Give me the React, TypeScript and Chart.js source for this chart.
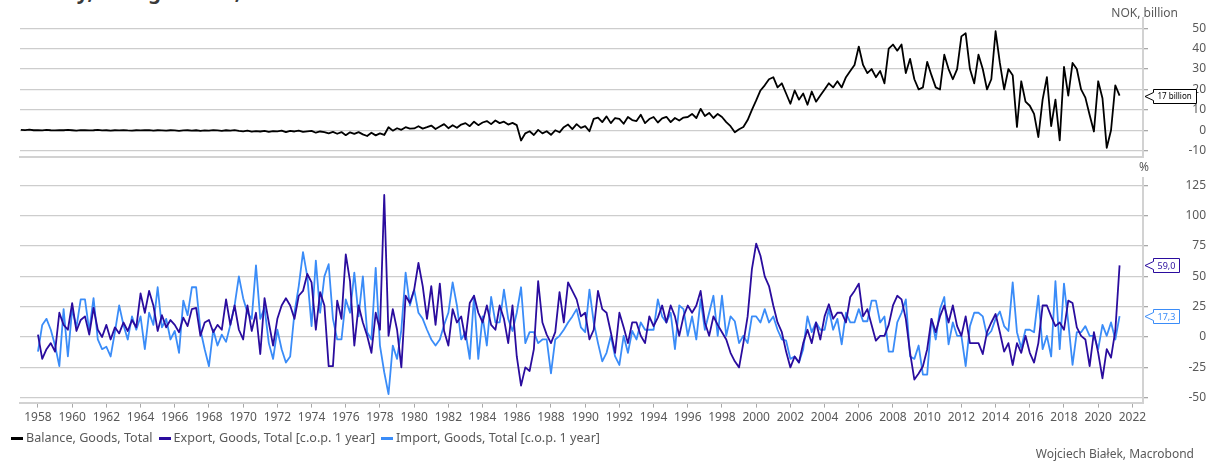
import React, { useEffect, useRef } from "react";
import { Chart, registerables } from "chart.js";

Chart.register(...registerables);

// ---------------- data ----------------
const balanceStartYear = 1957;
const tradeStartYear = 1958;
const stepYears = 0.25; // quarterly readings

// Balance, Goods, Total (NOK billion), quarterly from 1957 Q1
const balance = [
  0.2, 0.1, 0.3, 0.0, // 1957
  0.1, -0.1, 0.2, 0.0, // 1958
  -0.1, 0.1, 0.0, 0.2, // 1959
  0.0, -0.2, 0.1, 0.0, // 1960
  -0.1, 0.0, 0.2, -0.1, // 1961
  0.0, -0.2, 0.0, -0.1, // 1962
  0.1, -0.1, -0.2, 0.0, // 1963
  -0.1, 0.0, 0.1, -0.2, // 1964
  0.0, -0.1, -0.2, 0.0, // 1965
  -0.1, -0.3, -0.1, 0.0, // 1966
  -0.2, 0.0, -0.3, -0.1, // 1967
  -0.2, 0.1, -0.1, -0.3, // 1968
  0.0, -0.2, 0.1, -0.3, // 1969
  -0.5, -0.2, -0.7, -0.4, // 1970
  -0.6, -0.3, -0.8, -0.4, // 1971
  -0.5, -0.2, -0.9, -0.3, // 1972
  -0.6, -0.2, -0.8, -0.5, // 1973
  -0.3, -1.2, -0.6, -0.9, // 1974
  -1.5, -0.8, -1.7, -0.9, // 1975
  -2.4, -1.0, -1.8, -0.9, // 1976
  -2.0, -2.8, -1.2, -2.5, // 1977
  -1.5, -2.3, 1.5, -0.2, // 1978
  1.0, 0.2, 1.5, 0.8, // 1979
  0.9, 2.0, 0.8, 1.5, // 1980
  2.3, 0.6, 1.8, 3.0, // 1981
  1.0, 2.5, 1.2, 2.8, // 1982
  3.5, 2.0, 4.2, 2.5, // 1983
  3.8, 4.5, 3.0, 4.8, // 1984
  3.5, 4.2, 2.8, 3.6, // 1985
  2.5, -5.0, -1.5, -0.5, // 1986
  -2.3, 0.2, -1.5, -0.5, // 1987
  -2.2, 0.0, -1.0, 1.5, // 1988
  2.8, 0.6, 3.0, 1.2, // 1989
  2.0, -0.5, 5.6, 6.2, // 1990
  4.0, 6.8, 3.5, 6.0, // 1991
  5.6, 3.2, 6.5, 5.0, // 1992
  4.5, 7.6, 3.5, 5.5, // 1993
  6.5, 3.8, 5.8, 6.6, // 1994
  4.0, 6.0, 4.8, 6.2, // 1995
  6.5, 8.0, 6.0, 10.5, // 1996
  7.0, 8.5, 6.0, 8.0, // 1997
  6.5, 4.0, 2.0, -1.0, // 1998
  0.5, 1.6, 5.0, 10.0, // 1999
  14.6, 19.5, 22.0, 25.0, // 2000
  26.0, 21.0, 23.0, 18.0, // 2001
  13.0, 19.5, 15.0, 18.0, // 2002
  12.5, 19.0, 14.0, 17.0, // 2003
  20.0, 23.0, 21.0, 24.0, // 2004
  21.0, 26.0, 29.0, 32.0, // 2005
  41.0, 32.0, 28.0, 30.0, // 2006
  26.0, 29.0, 23.0, 40.0, // 2007
  42.0, 39.0, 42.0, 28.0, // 2008
  35.0, 25.0, 20.0, 21.0, // 2009
  33.5, 27.0, 21.0, 20.0, // 2010
  37.0, 30.0, 25.0, 30.0, // 2011
  46.0, 47.5, 30.0, 23.0, // 2012
  37.0, 30.0, 20.0, 25.0, // 2013
  48.5, 33.0, 20.0, 30.0, // 2014
  27.0, 1.6, 24.0, 14.0, // 2015
  12.0, 8.0, -3.3, 15.0, // 2016
  26.0, 2.0, 15.0, -5.0, // 2017
  31.0, 17.0, 33.0, 30.0, // 2018
  20.0, 16.0, 7.5, -0.6, // 2019
  24.0, 15.7, -8.6, 0.0, // 2020
  22.0, 17.0, // 2021
];

// Export, Goods, Total [c.o.p. 1 year] (%), quarterly from 1958 Q1
const exportGrowth = [
  2, -18, -10, -5, // 1958
  -12, 20, 10, 6, // 1959
  28, 5, 14, 17, // 1960
  2, 24, 6, 0, // 1961
  10, -2, 8, 3, // 1962
  12, 5, 14, 8, // 1963
  36, 20, 38, 26, // 1964
  5, 18, 8, 14, // 1965
  10, 4, 16, 9, // 1966
  23, 24, 1, 12, // 1967
  14, 4, 10, 6, // 1968
  31, 10, 26, 6, // 1969
  -2, 26, 5, 20, // 1970
  -14, 32, 12, -7, // 1971
  15, 26, 32, 26, // 1972
  15, 34, 38, 52, // 1973
  45, 6, 37, 26, // 1974
  -24, -24, 30, 15, // 1975
  68, 46, -7, 26, // 1976
  12, 1, -13, 20, // 1977
  6, 117, 1, 23, // 1978
  6, -25, 34, 28, // 1979
  39, 61, 42, 15, // 1980
  42, 10, 44, 5, // 1981
  -7, 23, 12, 17, // 1982
  -2, 28, 34, 20, // 1983
  12, 26, 10, 6, // 1984
  26, 15, -5, 26, // 1985
  -16, -40, -25, -28, // 1986
  -10, 46, 12, 2, // 1987
  -5, 4, 37, 12, // 1988
  45, 38, 31, 17, // 1989
  20, -2, 6, 38, // 1990
  23, 20, 4, -13, // 1991
  20, 8, -5, 12, // 1992
  12, 1, -5, 17, // 1993
  9, 16, 26, 12, // 1994
  26, 17, 1, 17, // 1995
  26, 20, 26, 38, // 1996
  12, 1, 17, 10, // 1997
  4, -2, -13, -20, // 1998
  -25, -5, 17, 56, // 1999
  77, 67, 50, 42, // 2000
  26, 12, 4, -12, // 2001
  -25, -16, -21, -5, // 2002
  6, -5, 12, -2, // 2003
  17, 27, 15, 20, // 2004
  20, 12, 33, 38, // 2005
  44, 17, 23, 10, // 2006
  -3, 1, 1, 10, // 2007
  26, 34, 31, 15, // 2008
  -13, -35, -30, -24, // 2009
  -10, 15, 4, 17, // 2010
  26, 12, 26, 9, // 2011
  1, 17, -5, -5, // 2012
  -5, -14, 4, 12, // 2013
  19, 4, -12, -5, // 2014
  -23, -5, -13, 1, // 2015
  -13, -21, -5, 26, // 2016
  26, 17, 9, 12, // 2017
  6, 30, 28, 8, // 2018
  1, -2, -24, 4, // 2019
  -13, -34, -10, -17, // 2020
  5, 59.0, // 2021
];

// Import, Goods, Total [c.o.p. 1 year] (%), quarterly from 1958 Q1
const importGrowth = [
  -12, 10, 15, 6, // 1958
  -7, -24, 23, -16, // 1959
  23, 8, 31, 31, // 1960
  5, 32, -2, -10, // 1961
  -8, -16, 4, 26, // 1962
  10, -2, 17, 6, // 1963
  17, -10, 20, 10, // 1964
  41, 8, 15, -2, // 1965
  5, -13, 30, 18, // 1966
  41, 41, 6, -10, // 1967
  -24, 6, -7, 2, // 1968
  -4, 10, 26, 50, // 1969
  32, 20, 15, 59, // 1970
  15, 24, -5, -18, // 1971
  6, -10, -21, -16, // 1972
  20, 42, 70, 50, // 1973
  9, 63, 20, 50, // 1974
  60, 15, -2, -2, // 1975
  31, 20, 53, 17, // 1976
  50, 4, -2, 57, // 1977
  -7, -29, -47, -7, // 1978
  -18, 6, 53, 26, // 1979
  39, 20, 15, 6, // 1980
  -2, -7, -2, 10, // 1981
  20, 45, 26, -2, // 1982
  4, -18, 34, -18, // 1983
  17, -7, 33, 12, // 1984
  12, 39, 15, 5, // 1985
  20, 41, -5, 4, // 1986
  4, -5, -2, -2, // 1987
  -30, -2, 1, 6, // 1988
  12, 17, 23, 8, // 1989
  4, 39, 12, -5, // 1990
  -20, -13, 1, -16, // 1991
  -23, 1, -13, 5, // 1992
  -2, 12, 6, 6, // 1993
  6, 31, 17, 12, // 1994
  20, -10, 26, 23, // 1995
  1, 17, -2, 31, // 1996
  6, 20, 34, 1, // 1997
  34, 1, 17, 13, // 1998
  -5, 1, -5, 17, // 1999
  17, 12, 23, 12, // 2000
  17, 6, -2, -3, // 2001
  -18, -16, -21, -10, // 2002
  17, 4, 12, 6, // 2003
  6, 23, 6, 15, // 2004
  -6, 20, 12, 12, // 2005
  23, 13, 13, 30, // 2006
  30, 12, 17, -12, // 2007
  -12, 12, 20, 31, // 2008
  -16, -18, -7, -31, // 2009
  -31, 15, -2, 23, // 2010
  33, -6, 12, 1, // 2011
  1, -24, 9, 20, // 2012
  20, 17, 1, 5, // 2013
  15, 21, 9, 5, // 2014
  45, 4, -9, 6, // 2015
  6, 4, 34, -10, // 2016
  1, -16, 46, -10, // 2017
  44, 12, -23, 4, // 2018
  4, 9, 1, 1, // 2019
  -10, 10, 1, 12, // 2020
  -2, 17.3, // 2021
];

const yearTicks = [
  1958, 1960, 1962, 1964, 1966, 1968, 1970, 1972, 1974, 1976, 1978,
  1980, 1982, 1984, 1986, 1988, 1990, 1992, 1994, 1996, 1998, 2000,
  2002, 2004, 2006, 2008, 2010, 2012, 2014, 2016, 2018, 2020, 2022,
];
const balanceTicks = [-10, 0, 10, 20, 30, 40, 50];
const percentTicks = [-50, -25, 0, 25, 50, 75, 100, 125];

const seriesNames = [
  "Balance, Goods, Total",
  "Export, Goods, Total [c.o.p. 1 year]",
  "Import, Goods, Total [c.o.p. 1 year]",
];
const seriesColors = ["#000000", "#2a0c9e", "#3a8cf8"];

const titleText = "Norway, Foreign Trade, NOK";
const topUnit = "NOK, billion";
const bottomUnit = "%";
const sourceText = "Wojciech Białek, Macrobond";

// ---------------- helpers ----------------
const FONT = "'Noto Sans', sans-serif";
const TEXT_GRAY = "#595959";
const X_MIN = 1956.95;
const X_MAX = 2022.62;

const toPoints = (start: number, vals: number[]) =>
  vals.map((v, i) => ({ x: start + i * stepYears, y: v }));

const calloutPlugin = {
  id: "callouts",
  afterDraw(chart: any) {
    const { ctx, chartArea } = chart;
    const yScale = chart.scales.y;
    chart.data.datasets.forEach((ds: any) => {
      const c = ds.callout;
      if (!c) return;
      const last = ds.data[ds.data.length - 1];
      const y = Math.round(yScale.getPixelForValue(last.y)) + 0.5;
      ctx.save();
      ctx.font = `${c.size}px ${FONT}`;
      const text = c.format(last.y);
      const tw = ctx.measureText(text).width;
      const tip = chartArea.right + 2;
      const left = chartArea.right + 10.5;
      const right = Math.round(left + tw + 8) + 0.5;
      const h = 14;
      const top = y - h / 2;
      const bottom = y + h / 2;
      ctx.beginPath();
      ctx.moveTo(left, top);
      ctx.lineTo(right, top);
      ctx.lineTo(right, bottom);
      ctx.lineTo(left, bottom);
      ctx.lineTo(left, y + 4);
      ctx.lineTo(tip, y);
      ctx.lineTo(left, y - 4);
      ctx.closePath();
      ctx.fillStyle = "#ffffff";
      ctx.fill();
      ctx.strokeStyle = ds.borderColor;
      ctx.lineWidth = 1;
      ctx.stroke();
      ctx.fillStyle = c.textColor;
      ctx.textBaseline = "middle";
      ctx.textAlign = "left";
      ctx.fillText(text, left + 4, y + 0.5);
      ctx.restore();
    });
  },
};

const xScale = (showTicks: boolean) => ({
  type: "linear",
  min: X_MIN,
  max: X_MAX,
  afterBuildTicks: (s: any) => {
    s.ticks = yearTicks.map((v) => ({ value: v }));
  },
  grid: {
    display: showTicks,
    drawOnChartArea: false,
    drawTicks: true,
    tickLength: 5,
    color: "#a8a8a8",
    lineWidth: 1,
  },
  border: { display: true, color: "#d2d2d2", width: 2 },
  ticks: {
    display: showTicks,
    autoSkip: false,
    maxRotation: 0,
    padding: 3,
    color: TEXT_GRAY,
    font: { size: 12, family: FONT },
    callback: (v: any) => String(v),
  },
});

const yScale = (min: number, max: number, ticks: number[]) => ({
  position: "right",
  min,
  max,
  afterBuildTicks: (s: any) => {
    s.ticks = ticks.map((v) => ({ value: v }));
  },
  afterFit: (s: any) => {
    s.width = 63;
  },
  grid: {
    color: "#cdcdcd",
    lineWidth: 1.3,
    drawTicks: true,
    tickLength: 5,
    tickColor: "#a8a8a8",
  },
  border: { display: true, color: "#d2d2d2", width: 2 },
  ticks: {
    padding: 5,
    crossAlign: "far",
    color: TEXT_GRAY,
    font: { size: 12, family: FONT },
    callback: (v: any) => String(v),
  },
});

export default function App() {
  const topRef = useRef<HTMLCanvasElement | null>(null);
  const bottomRef = useRef<HTMLCanvasElement | null>(null);

  useEffect(() => {
    Chart.defaults.font.family = FONT;
    const top = new Chart(topRef.current as HTMLCanvasElement, {
      type: "line",
      data: {
        datasets: [
          {
            label: seriesNames[0],
            data: toPoints(balanceStartYear, balance),
            borderColor: seriesColors[0],
            borderWidth: 1.8,
            pointRadius: 0,
            tension: 0,
            borderJoinStyle: "round",
            callout: {
              size: 8,
              textColor: "#000000",
              format: (v: number) => `${Math.round(v)} billion`,
            },
          } as any,
        ],
      },
      options: {
        responsive: false,
        animation: false,
        parsing: false as any,
        normalized: true,
        events: [],
        layout: { padding: { left: 20, right: 0, top: 18, bottom: 0 } },
        plugins: { legend: { display: false }, tooltip: { enabled: false } },
        scales: {
          x: xScale(false) as any,
          y: yScale(-13, 55, balanceTicks) as any,
        },
      },
      plugins: [calloutPlugin],
    });

    const bottom = new Chart(bottomRef.current as HTMLCanvasElement, {
      type: "line",
      data: {
        datasets: [
          {
            label: seriesNames[1],
            data: toPoints(tradeStartYear, exportGrowth),
            borderColor: seriesColors[1],
            borderWidth: 1.8,
            pointRadius: 0,
            tension: 0,
            borderJoinStyle: "round",
            callout: {
              size: 9,
              textColor: seriesColors[1],
              format: (v: number) => v.toFixed(1).replace(".", ","),
            },
          } as any,
          {
            label: seriesNames[2],
            data: toPoints(tradeStartYear, importGrowth),
            borderColor: seriesColors[2],
            borderWidth: 1.8,
            pointRadius: 0,
            tension: 0,
            borderJoinStyle: "round",
            callout: {
              size: 9,
              textColor: seriesColors[2],
              format: (v: number) => v.toFixed(1).replace(".", ","),
            },
          } as any,
        ],
      },
      options: {
        responsive: false,
        animation: false,
        parsing: false as any,
        normalized: true,
        events: [],
        layout: { padding: { left: 20, right: 0, top: 13, bottom: 33 } },
        plugins: { legend: { display: false }, tooltip: { enabled: false } },
        scales: {
          x: xScale(true) as any,
          y: yScale(-54, 131, percentTicks) as any,
        },
      },
      plugins: [calloutPlugin],
    });

    return () => {
      top.destroy();
      bottom.destroy();
    };
  }, []);

  const textStyle: React.CSSProperties = {
    position: "absolute",
    fontFamily: FONT,
    fontSize: 12,
    lineHeight: "16px",
    color: TEXT_GRAY,
    whiteSpace: "nowrap",
  };

  return (
    <div
      style={{
        position: "absolute",
        left: 0,
        top: 0,
        width: 1206,
        height: 461,
        overflow: "hidden",
        background: "#ffffff",
      }}
    >
      <div
        style={{
          position: "absolute",
          left: 10,
          top: -20,
          fontFamily: FONT,
          fontWeight: 700,
          fontSize: 20,
          lineHeight: "24px",
          color: "#3a3a3a",
          whiteSpace: "nowrap",
        }}
      >
        {titleText}
      </div>
      <canvas
        ref={bottomRef}
        width={1206}
        height={296}
        style={{ position: "absolute", left: 0, top: 165 }}
      />
      <canvas
        ref={topRef}
        width={1206}
        height={169}
        style={{ position: "absolute", left: 0, top: 0 }}
      />
      <div style={{ ...textStyle, right: 28, top: 5 }}>{topUnit}</div>
      <div style={{ ...textStyle, left: 1139, top: 159 }}>{bottomUnit}</div>
      <div
        style={{
          ...textStyle,
          fontSize: 12.6,
          left: 11,
          top: 430,
          display: "flex",
          alignItems: "center",
        }}
      >
        {seriesNames.map((name, i) => (
          <div
            key={name}
            style={{ display: "flex", alignItems: "center", marginRight: 6 }}
          >
            <span
              style={{
                display: "inline-block",
                width: 12,
                height: 3,
                background: seriesColors[i],
                marginRight: 3,
              }}
            />
            <span>{name}</span>
          </div>
        ))}
      </div>
      <div style={{ ...textStyle, right: 12, top: 446 }}>{sourceText}</div>
    </div>
  );
}
